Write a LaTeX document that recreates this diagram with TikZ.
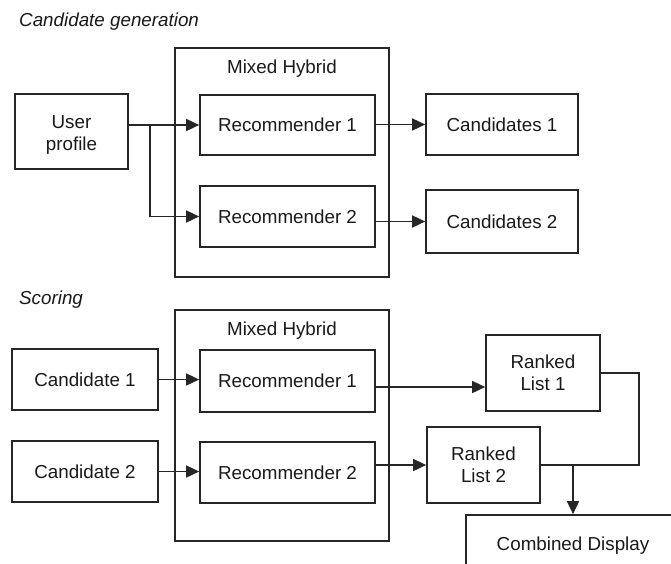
\documentclass[tikz,border=0pt]{standalone}
\usepackage{fontspec}
\setmainfont{Liberation Sans}
\usetikzlibrary{arrows.meta}
\begin{document}
\begin{tikzpicture}[x=1pt,y=-1pt,
  every node/.style={text=black!90},
  box/.style={draw=black!85, line width=1.7pt, inner sep=0pt, align=center,
    font=\fontsize{18.8}{22.5}\selectfont},
  lbl/.style={inner sep=0pt, font=\fontsize{18.8}{22.5}\selectfont},
  ttl/.style={inner sep=0pt, anchor=west, font=\fontsize{18.8}{22.5}\selectfont\itshape},
  conn/.style={draw=black!85, line width=1.7pt},
  arr/.style={conn, -{Triangle[length=13pt,width=12pt]}}
]
\useasboundingbox (0,0) rectangle (671,563);
\clip (0,0) rectangle (671,563);

% ---------- Candidate generation ----------
\node[ttl] (t1) at (19,22) {Candidate generation};
\node[box, minimum width=214pt, minimum height=229pt] (mh1) at (282,162.5) {};
\node[lbl] (mh1l) at (282,69) {Mixed Hybrid};
\node[box, minimum width=113pt, minimum height=75pt] (up) at (71.5,131.5)
  {\raisebox{0pt}[\dimexpr\height+7pt\relax][\depth]{\begin{tabular}{@{}c@{}}User\\profile\end{tabular}}};
\node[box, minimum width=175pt, minimum height=60pt] (r1) at (287.5,125) {Recommender 1};
\node[box, minimum width=175pt, minimum height=61pt] (r2) at (287.5,216.5) {Recommender 2};
\node[box, minimum width=152pt, minimum height=61pt] (c1) at (502,124.5) {Candidates 1};
\node[box, minimum width=152pt, minimum height=63pt] (c2) at (502,221.5) {Candidates 2};

\coordinate (br) at (150,125);
\draw[arr] (up.east |- r1.west) -- (r1.west);
\draw[arr] (br) |- (r2.west);
\draw[arr] (r1.east |- c1.west) -- (c1.west);
\draw[arr] (r2.east |- c2.west) -- (c2.west);

% ---------- Scoring ----------
\node[ttl] (t2) at (19,300) {Scoring};
\node[box, minimum width=214pt, minimum height=231pt] (mh2) at (282,425.5) {};
\node[lbl] (mh2l) at (282,331) {Mixed Hybrid};
\node[box, minimum width=146pt, minimum height=61pt] (k1) at (85,379.5) {Candidate 1};
\node[box, minimum width=146pt, minimum height=61pt] (k2) at (85,471.5) {Candidate 2};
\node[box, minimum width=175pt, minimum height=62pt] (s1) at (287.5,381) {Recommender 1};
\node[box, minimum width=175pt, minimum height=61pt] (s2) at (287.5,472.5) {Recommender 2};
\node[box, minimum width=114pt, minimum height=76pt] (l1) at (543,373) {Ranked\\List 1};
\node[box, minimum width=113pt, minimum height=76pt] (l2) at (483.5,465) {Ranked\\List 2};
\node[box, minimum width=214pt, minimum height=62pt] (cd) at (573,546) {Combined Display};

\draw[arr] (k1.east) -- (k1.east -| s1.west);
\draw[arr] (k2.east) -- (k2.east -| s2.west);
\draw[arr] ([yshift=-6pt]s1.east) -- ([yshift=-6pt]s1.east -| l1.west);
\draw[arr] (s2.east |- l2.west) -- (l2.west);

\coordinate (m) at (cd.north |- l2.east);
\draw[conn] (l1.east) -- ++(38,0) |- (m);
\draw[conn] (l2.east) -- (m);
\draw[arr] (m) -- (cd.north);
\end{tikzpicture}
\end{document}
